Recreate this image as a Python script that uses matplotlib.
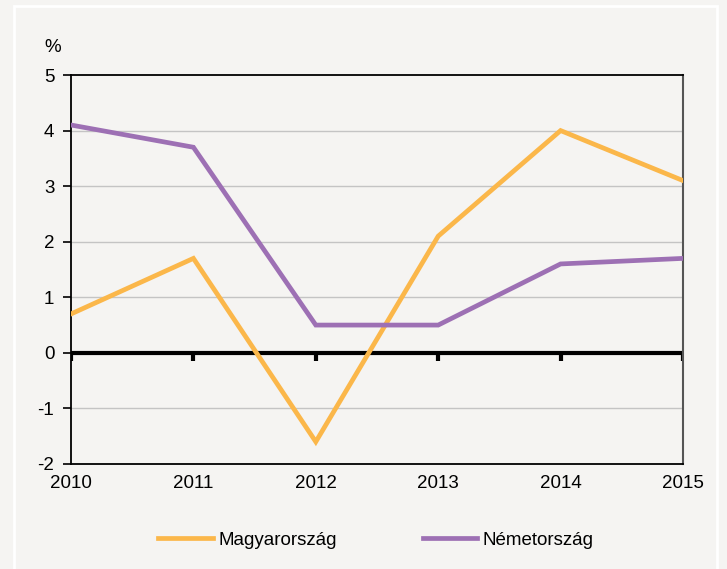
import matplotlib
matplotlib.use("Agg")
import matplotlib.pyplot as plt
from matplotlib import font_manager, markers
from matplotlib.patches import Rectangle

years = ["2010", "2011", "2012", "2013", "2014", "2015"]
hungary = [0.7, 1.7, -1.6, 2.1, 4.0, 3.1]
germany = [4.1, 3.7, 0.5, 0.5, 1.6, 1.7]
yticks = [-2, -1, 0, 1, 2, 3, 4, 5]
series_names = ["Magyarország", "Németország"]

names = {f.name for f in font_manager.fontManager.ttflist}
if "Liberation Sans Narrow" in names:
    plt.rcParams["font.family"] = ["Liberation Sans Narrow", "DejaVu Sans"]
    fs = 15
else:
    plt.rcParams["font.family"] = ["Liberation Sans", "DejaVu Sans"]
    fs = 13.5

bg = "#f5f4f2"
fig = plt.figure(figsize=(7.27, 5.69), dpi=100, facecolor=bg)
fig.patches.append(Rectangle((14.5 / 727, -0.05), (717 - 14.5) / 727, 1.05 - 5.5 / 569,
                             transform=fig.transFigure, fill=False, edgecolor="white",
                             linewidth=2, zorder=0))
ax = fig.add_axes([71 / 727, 1 - 464 / 569, (683 - 71) / 727, (464 - 75) / 569])
ax.set_facecolor(bg)

x = list(range(len(years)))
for v in [-1, 1, 2, 3, 4]:
    ax.axhline(v, color="#c4c4c4", lw=1, zorder=1)
ax.axhline(0, color="black", lw=3, zorder=2)
ax.plot(x, [0] * len(x), linestyle="none", marker=markers.TICKDOWN, markersize=6,
        mew=3, color="black", zorder=2)

ax.plot(x, hungary, color="#fbb74a", lw=3.4, label=series_names[0], zorder=3,
        solid_joinstyle="miter")
ax.plot(x, germany, color="#9d70b4", lw=3.4, label=series_names[1], zorder=4,
        solid_joinstyle="miter")

ax.set_xlim(0, len(years) - 1)
ax.set_ylim(-2, 5)
ax.set_yticks(yticks)
ax.set_yticklabels([str(v) for v in yticks], fontsize=fs)
ax.set_xticks(x)
ax.set_xticklabels(years, fontsize=fs)
ax.tick_params(axis="x", length=0, pad=8)
ax.tick_params(axis="y", direction="out", length=6, width=1.2, pad=6, colors="black")
for s in ["left", "top", "bottom"]:
    ax.spines[s].set_color("black")
    ax.spines[s].set_linewidth(1.3)
ax.spines["right"].set_color("#555555")
ax.spines["right"].set_linewidth(1.5)

fig.text(53 / 727, 1 - 47 / 569, "%", fontsize=fs, ha="center", va="center")

fig.legend(loc="center", bbox_to_anchor=(376 / 727, 1 - 540 / 569), ncol=2,
           frameon=False, fontsize=fs, handlelength=2.9, handletextpad=0.3,
           columnspacing=4.6)

fig.savefig("out.png", dpi=100, facecolor=bg)
